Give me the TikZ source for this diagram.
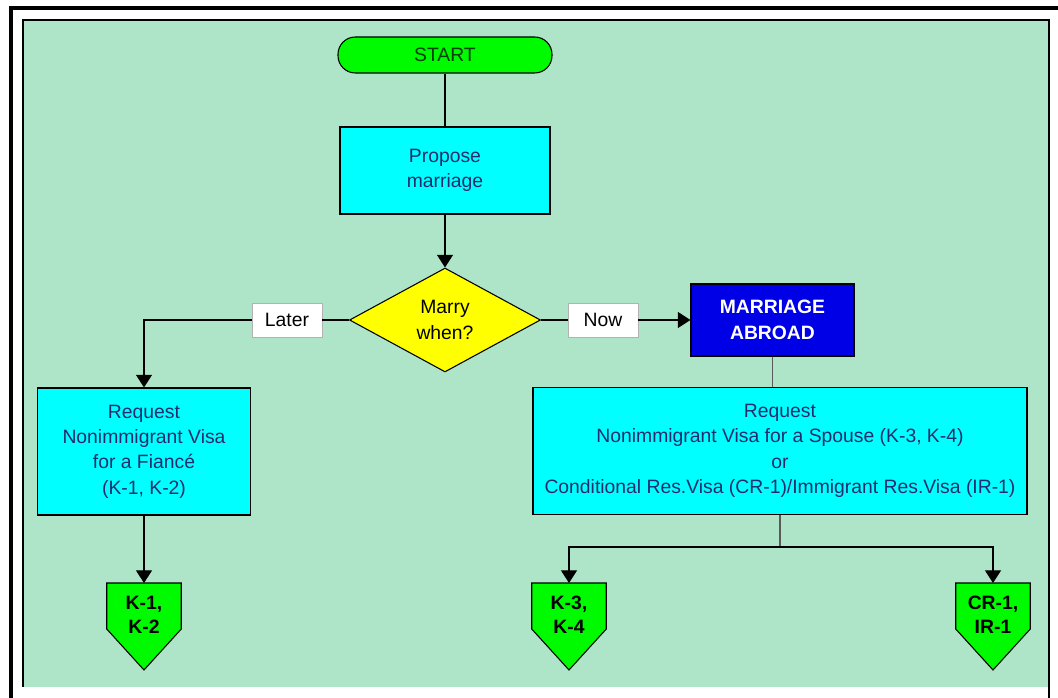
\documentclass[tikz,border=0pt]{standalone}
\usepackage{fontspec}
\setmainfont{Liberation Sans}
\usetikzlibrary{arrows.meta, shapes.geometric, calc, backgrounds}

\definecolor{panel}{RGB}{174,229,200}
\definecolor{boxcyan}{RGB}{0,255,255}
\definecolor{startgreen}{RGB}{0,250,0}
\definecolor{askyellow}{RGB}{255,255,0}
\definecolor{abroadblue}{RGB}{0,0,230}
\definecolor{navy}{RGB}{35,45,110}

\begin{document}
\begin{tikzpicture}[
    x=0.75pt, y=-0.75pt,
    every node/.style={font=\fontsize{14.5}{19}\selectfont},
    box/.style={draw, line width=0.8pt, fill=boxcyan, text=navy, align=center, inner sep=2pt},
    terminal/.style={draw, line width=0.8pt, fill=startgreen, text=black!75!green, rounded corners=13pt, minimum width=160.5pt, minimum height=27pt},
    ask/.style={diamond, draw, line width=0.8pt, fill=askyellow, align=center, inner sep=1pt, shape aspect=1.84, minimum width=143.25pt, minimum height=78pt},
    answer/.style={draw=gray!60, fill=white, minimum width=52.5pt, minimum height=25.5pt, inner sep=1pt},
    abroadbox/.style={draw, line width=0.8pt, fill=abroadblue, text=white, font=\fontsize{14.5}{19}\selectfont\bfseries, align=center, minimum width=122.25pt, minimum height=54pt},
    tag/.style={align=center, font=\fontsize{14.5}{18}\selectfont\bfseries, minimum width=55.5pt, minimum height=47.5pt, inner sep=0pt, anchor=north},
    tagshape/.style={draw, line width=0.8pt, fill=startgreen},
    link/.style={line width=1pt},
    arrow/.style={-{Triangle[length=9.5pt, width=12pt]}, line width=1pt},
    faint/.style={line width=1pt, gray!70!black}
]
\useasboundingbox (0,0) rectangle (1058,698);

\node[terminal] (start) at (445,55) {START};
\node[box, minimum width=157.5pt, minimum height=65.25pt] (propose) at (445,170.5) {Propose\\marriage};
\node[ask] (when) at (445,320) {Marry\\when?};
\node[answer] (later) at (287,320) {Later};
\node[answer] (now) at (603,320) {Now};
\node[abroadbox] (abroad) at (772.5,320) {MARRIAGE\\ABROAD};
\node[box, minimum width=159.75pt, minimum height=95.25pt] (fiance) at (144,451.5) {Request\\Nonimmigrant Visa\\for a Fiancé\\(K-1, K-2)};
\node[box, minimum width=370.5pt, minimum height=95.25pt] (spouse) at (780,451) {Request\\Nonimmigrant Visa for a Spouse (K-3, K-4)\\or\\Conditional Res.Visa (CR-1)/Immigrant Res.Visa (IR-1)};
\node[tag] (k12) at (144,583) {K-1,\\K-2};
\node[tag] (k34) at (569,583) {K-3,\\K-4};
\node[tag] (cr) at (993,583) {CR-1,\\IR-1};
\coordinate (fork) at (780,547);

\draw[link] (start) -- (propose);
\draw[arrow] (propose) -- (when);
\draw[link] (when.west) -- (later.east);
\draw[arrow] (later.west) -| (fiance.north);
\draw[link] (when.east) -- (now.west);
\draw[arrow] (now.east) -- (abroad.west);
\draw[faint] (abroad.south) -- (abroad.south |- spouse.north);
\draw[arrow] (fiance) -- (k12);
\draw[faint] (spouse) -- (fork);
\draw[arrow] (fork) -| (k34.north);
\draw[arrow] (fork) -| (cr.north);

\begin{scope}[on background layer]
\fill[white] (0,0) rectangle (1058,698);
\fill[panel] (23,20) rectangle (1049,687);
\draw[line width=1.5pt] (23,687) -- (23,20) -- (1049,20) -- (1049,698);
\draw[line width=3pt] (11,698) -- (11,8) -- (1058,8);
% pentagon tags behind their text
\foreach \t in {k12,k34,cr}
  \draw[tagshape] (\t.north west) -- (\t.north east) -- ($(\t.north east)+(0,46)$) -- ($(\t.north)+(0,87)$) -- ($(\t.north west)+(0,46)$) -- cycle;
\end{scope}
\end{tikzpicture}
\end{document}
